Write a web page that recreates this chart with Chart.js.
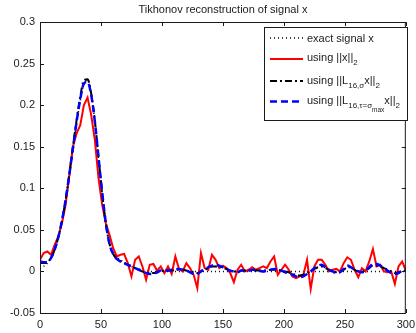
<!DOCTYPE html>
<html>
<head>
<meta charset="utf-8">
<title>Tikhonov reconstruction of signal x</title>
<script src="https://cdn.jsdelivr.net/npm/chart.js@4.4.1/dist/chart.umd.min.js"></script>
<style>
  html, body { margin: 0; padding: 0; overflow: hidden; background: #fff; }
  #wrap { width: 416px; height: 333px; overflow: hidden; }
  canvas { display: block; }
</style>
</head>
<body>
<div id="wrap"><canvas id="tikhonovChart" width="420" height="333"></canvas></div>
<script>
"use strict";

// sample positions (signal index)
const xs = [
    0, 3, 6, 9, 12, 15, 18, 21, 24, 27,
    30, 33, 36, 39, 42, 45, 48, 51, 54, 57,
    60, 63, 66, 69, 72, 75, 78, 81, 84, 87,
    90, 93, 96, 99, 102, 105, 108, 111, 114, 117,
    120, 123, 126, 129, 132, 135, 138, 141, 144, 147,
    150, 153, 156, 159, 162, 165, 168, 171, 174, 177,
    180, 183, 186, 189, 192, 195, 198, 201, 204, 207,
    210, 213, 216, 219, 222, 225, 228, 231, 234, 237,
    240, 243, 246, 249, 252, 255, 258, 261, 264, 267,
    270, 273, 276, 279, 282, 285, 288, 291, 294, 297,
    300
];

// exact signal x
const exactSignal = [
    0.004, 0.006, 0.010, 0.017, 0.027, 0.041, 0.060, 0.084, 0.113, 0.145,
    0.177, 0.205, 0.225, 0.230, 0.214, 0.180, 0.135, 0.095, 0.062, 0.038,
    0.025, 0.018, 0.014, 0.011, 0.008, 0.006, 0.004, 0.003, 0.002, 0.001,
    0, 0, 0, 0, 0, 0, 0, 0, 0, 0,
    0, 0, 0, 0, 0, 0, 0, 0, 0, 0,
    0, 0, 0, 0, 0, 0, 0, 0, 0, 0,
    0, 0, 0, 0, 0, 0, 0, 0, 0, 0,
    0, 0, 0, 0, 0, 0, 0, 0, 0, 0,
    0, 0, 0, 0, 0, 0, 0, 0, 0, 0,
    0, 0, 0, 0, 0, 0, 0, 0, 0, 0,
    0
];

// using ||x||_2 (noisy)
const normX = [
    0.014, 0.022, 0.024, 0.020, 0.032, 0.042, 0.058, 0.080, 0.115, 0.150,
    0.166, 0.176, 0.200, 0.209, 0.188, 0.158, 0.112, 0.080, 0.058, 0.044,
    0.028, 0.018, 0.020, 0.021, 0.010, -0.006, 0.014, 0.018, 0.006, -0.010,
    0.008, 0.009, 0.001, 0.006, -0.002, 0.006, -0.003, 0.018, 0.003, 0.000,
    0.010, 0.004, -0.004, -0.020, 0.022, 0.004, 0.002, 0.020, 0.014, 0.004,
    0.007, 0.004, -0.002, -0.013, 0.002, 0.008, 0.000, 0.002, 0.005, 0.002,
    0.004, 0.006, 0.004, 0.012, 0.018, -0.004, 0.002, 0.008, 0.002, -0.006,
    -0.008, -0.006, -0.004, 0.014, -0.021, 0.006, 0.014, 0.014, 0.008, 0.000,
    0.002, 0.003, 0.000, 0.010, 0.017, 0.014, 0.002, -0.007, 0.004, 0.000,
    0.012, 0.027, 0.006, 0.008, 0.000, -0.001, 0.000, -0.015, 0.006, 0.012,
    0.001
];

// using ||L_{16,sigma} x||_2
const normLSigma = [
    0.010, 0.010, 0.011, 0.016, 0.026, 0.041, 0.061, 0.086, 0.117, 0.150,
    0.182, 0.210, 0.230, 0.231, 0.214, 0.181, 0.137, 0.094, 0.057, 0.033,
    0.021, 0.015, 0.012, 0.010, 0.008, 0.006, 0.004, 0.002, 0.000, -0.001,
    -0.002, -0.002, -0.001, 0.000, 0.001, 0.001, 0.001, 0.002, 0.002, 0.002,
    0.001, 0.000, -0.001, -0.002, 0.000, 0.002, 0.004, 0.006, 0.006, 0.006,
    0.004, 0.003, 0.001, 0.000, 0.000, 0.001, 0.001, 0.001, 0.001, 0.001,
    0.001, 0.001, 0.001, 0.002, 0.002, 0.002, 0.001, 0.000, -0.001, -0.003,
    -0.004, -0.005, -0.004, -0.002, 0.000, 0.003, 0.005, 0.006, 0.004, 0.002,
    0.000, -0.001, 0.000, 0.002, 0.005, 0.005, 0.002, 0.000, 0.000, 0.001,
    0.004, 0.007, 0.007, 0.006, 0.004, 0.002, 0.000, -0.002, -0.001, 0.000,
    0.001
];

// using ||L_{16,tau=sigma_max} x||_2
const normLTau = [
    0.012, 0.011, 0.011, 0.016, 0.026, 0.041, 0.061, 0.086, 0.116, 0.148,
    0.180, 0.207, 0.226, 0.228, 0.212, 0.180, 0.137, 0.095, 0.058, 0.033,
    0.021, 0.015, 0.012, 0.010, 0.008, 0.006, 0.004, 0.002, 0.000, -0.002,
    -0.003, -0.003, -0.001, 0.001, 0.001, 0.001, 0.002, 0.003, 0.003, 0.002,
    0.001, -0.001, -0.003, -0.003, 0.000, 0.003, 0.005, 0.007, 0.008, 0.007,
    0.005, 0.003, 0.001, 0.000, -0.001, 0.001, 0.001, 0.001, 0.002, 0.002,
    0.001, 0.000, 0.001, 0.002, 0.003, 0.003, 0.001, -0.001, -0.002, -0.004,
    -0.006, -0.007, -0.006, -0.003, 0.000, 0.004, 0.007, 0.008, 0.005, 0.002,
    0.000, -0.002, -0.001, 0.003, 0.007, 0.005, 0.002, 0.000, -0.001, 0.001,
    0.005, 0.009, 0.009, 0.007, 0.004, 0.001, -0.002, -0.003, -0.002, 0.001,
    0.002
];

const xTicks = [0, 50, 100, 150, 200, 250, 300];
const yTicks = [-0.05, 0, 0.05, 0.1, 0.15, 0.2, 0.25, 0.3];

const titleText = 'Tikhonov reconstruction of signal x';

// legend rows: text runs, "sub" = subscript level
const legendRows = [
    [{ text: 'exact signal x' }],
    [{ text: 'using ||x||' }, { text: '2', sub: 1 }],
    [{ text: 'using ||L' }, { text: '16,σ', sub: 1 }, { text: 'x||' }, { text: '2', sub: 1 }],
    [{ text: 'using ||L' }, { text: '16,τ=σ', sub: 1 }, { text: 'max', sub: 2 }, { text: 'x||' }, { text: '2', sub: 1 }]
];

const FONT = '"Liberation Sans", Arial, Helvetica, sans-serif';
const INK = '#1a1a1a';

function toPoints(values) {
    return xs.map(function (x, i) { return { x: x, y: values[i] }; });
}

// sample of a dataset's line style, used for the legend
function strokeSample(ctx, ds, x1, x2, y) {
    ctx.save();
    ctx.strokeStyle = ds.borderColor;
    ctx.lineWidth = ds.borderWidth;
    ctx.setLineDash(ds.borderDash || []);
    ctx.beginPath();
    ctx.moveTo(x1, y);
    ctx.lineTo(x2, y);
    ctx.stroke();
    ctx.restore();
}

function drawRuns(ctx, x, y, runs) {
    runs.forEach(function (r) {
        var size = r.sub === 2 ? 6.5 : (r.sub === 1 ? 8 : 11);
        var dy = r.sub === 2 ? 8 : (r.sub === 1 ? 4 : 0);
        ctx.font = size + 'px ' + FONT;
        ctx.fillText(r.text, x, y + dy);
        x += ctx.measureText(r.text).width;
    });
}

// MATLAB style frame: box, inward ticks, title and boxed legend
const matlabFrame = {
    id: 'matlabFrame',
    afterDatasetsDraw: function (chart) {
        const ctx = chart.ctx;
        const a = chart.chartArea;
        const sx = chart.scales.x;
        const sy = chart.scales.y;
        const tick = 4;

        ctx.save();
        ctx.strokeStyle = INK;
        ctx.lineWidth = 1;
        ctx.setLineDash([]);
        ctx.strokeRect(a.left + 0.5, a.top + 0.5, a.right - a.left - 1, a.bottom - a.top);

        ctx.beginPath();
        xTicks.forEach(function (v) {
            var px = Math.round(sx.getPixelForValue(v)) + 0.5;
            ctx.moveTo(px, a.bottom);
            ctx.lineTo(px, a.bottom - tick);
            ctx.moveTo(px, a.top);
            ctx.lineTo(px, a.top + tick);
        });
        yTicks.forEach(function (v) {
            var py = Math.round(sy.getPixelForValue(v)) + 0.5;
            ctx.moveTo(a.left, py);
            ctx.lineTo(a.left + tick, py);
            ctx.moveTo(a.right, py);
            ctx.lineTo(a.right - tick, py);
        });
        ctx.stroke();

        // title
        ctx.fillStyle = INK;
        ctx.font = '11px ' + FONT;
        ctx.textAlign = 'center';
        ctx.textBaseline = 'alphabetic';
        ctx.fillText(titleText, (a.left + a.right) / 2, 13);

        // legend box
        const lx = 264, ly = 27, lw = 143, lh = 93;
        ctx.fillStyle = '#fff';
        ctx.fillRect(lx, ly, lw, lh);
        ctx.strokeRect(lx + 0.5, ly + 0.5, lw, lh);

        const rowsY = [38, 59, 81, 101.5];
        const baseY = [41.5, 60.5, 84, 104];
        const order = [0, 1, 2, 3];
        ctx.textAlign = 'left';
        order.forEach(function (k, i) {
            const ds = chart.data.datasets[k];
            strokeSample(ctx, ds, 270, 303, rowsY[i]);
            ctx.fillStyle = INK;
            drawRuns(ctx, 307, baseY[i], legendRows[i]);
        });
        ctx.restore();
    }
};

var ctx = document.getElementById('tikhonovChart').getContext('2d');

new Chart(ctx, {
    type: 'line',
    data: {
        datasets: [{
            label: 'exact signal x',
            data: toPoints(exactSignal),
            borderColor: '#000000',
            borderWidth: 1.5,
            borderDash: [1, 3],
            cubicInterpolationMode: 'monotone',
            order: 4
        }, {
            label: 'using ||x||2',
            data: toPoints(normX),
            borderColor: '#ff0000',
            borderWidth: 2,
            tension: 0,
            order: 3
        }, {
            label: 'using ||L16,σ x||2',
            data: toPoints(normLSigma),
            borderColor: '#000000',
            borderWidth: 2,
            borderDash: [7, 3, 2, 3],
            cubicInterpolationMode: 'monotone',
            order: 2
        }, {
            label: 'using ||L16,τ=σmax x||2',
            data: toPoints(normLTau),
            borderColor: '#0000ff',
            borderWidth: 2.5,
            borderDash: [7, 4],
            cubicInterpolationMode: 'monotone',
            order: 1
        }]
    },
    options: {
        responsive: false,
        devicePixelRatio: 1,
        animation: false,
        events: [],
        layout: { padding: { top: 22, right: 11, left: 0, bottom: 0 } },
        elements: { point: { radius: 0 } },
        plugins: {
            legend: { display: false },
            title: { display: false },
            tooltip: { enabled: false }
        },
        scales: {
            x: {
                type: 'linear',
                min: 0,
                max: 300,
                afterBuildTicks: function (s) { s.ticks = xTicks.map(function (v) { return { value: v }; }); },
                afterFit: function (s) { s.height = 20; },
                ticks: {
                    padding: 5,
                    maxRotation: 0,
                    autoSkip: false,
                    color: INK,
                    font: { family: FONT, size: 11 }
                },
                grid: { display: false, drawTicks: false },
                border: { display: false }
            },
            y: {
                type: 'linear',
                min: -0.05,
                max: 0.3,
                afterBuildTicks: function (s) { s.ticks = yTicks.map(function (v) { return { value: v }; }); },
                afterFit: function (s) { s.width = 40; },
                ticks: {
                    padding: 5,
                    color: INK,
                    font: { family: FONT, size: 11 },
                    callback: function (v) { return String(+v.toFixed(2)); }
                },
                grid: { display: false, drawTicks: false },
                border: { display: false }
            }
        }
    },
    plugins: [matlabFrame]
});
</script>
</body>
</html>
